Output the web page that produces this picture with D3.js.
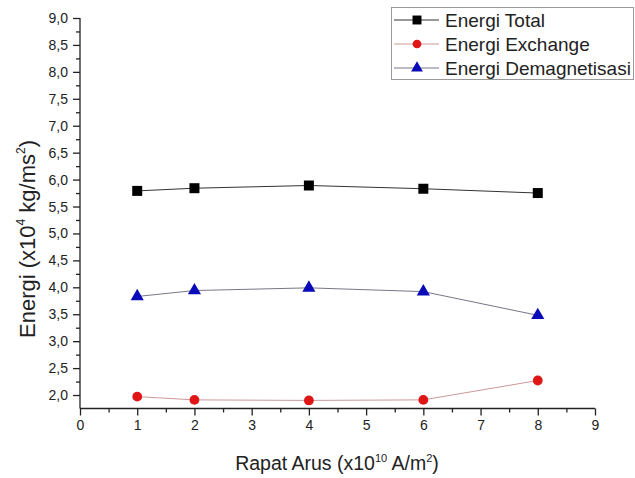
<!DOCTYPE html>
<html>
<head>
<meta charset="utf-8">
<script src="https://cdn.jsdelivr.net/npm/d3@7"></script>
<style>
  body { margin: 0; background: #fff; }
  svg { display: block; font-family: "Liberation Sans", Arial, sans-serif; }
</style>
</head>
<body>
<div id="chart"></div>
<script>
// Data
const rapatArus = [1, 2, 4, 6, 8];
const energiTotal = [5.79, 5.84, 5.89, 5.83, 5.75];
const energiExchange = [1.97, 1.91, 1.90, 1.91, 2.27];
const energiDemag = [3.83, 3.94, 3.99, 3.92, 3.48];

const seriesNames = ["Energi Total", "Energi Exchange", "Energi Demagnetisasi"];
const xTicks = [0, 1, 2, 3, 4, 5, 6, 7, 8, 9];
const yTicks = [2.0, 2.5, 3.0, 3.5, 4.0, 4.5, 5.0, 5.5, 6.0, 6.5, 7.0, 7.5, 8.0, 8.5, 9.0];

const W = 635, H = 478;

const svg = d3.select("#chart").append("svg")
  .attr("width", W)
  .attr("height", H);

const x = d3.scaleLinear().domain([0, 9]).range([80, 595]);
const y = d3.scaleLinear().domain([1.75, 9]).range([408.5, 18]);

// x axis
const xAxis = d3.axisBottom(x).tickValues(xTicks).tickSize(7).tickPadding(5)
  .tickFormat(d3.format("d"));
const xMinor = d3.axisBottom(x).tickValues(d3.range(0.5, 9, 1)).tickSize(4).tickFormat("");

const gx = svg.append("g").attr("transform", `translate(0,${y(1.75)})`);
gx.call(xAxis);
svg.append("g").attr("transform", `translate(0,${y(1.75)})`).call(xMinor)
  .select(".domain").remove();

// y axis
const yAxis = d3.axisLeft(y).tickValues(yTicks).tickSize(7).tickPadding(5)
  .tickFormat(d => d3.format(".1f")(d).replace(".", ","));
const yMinor = d3.axisLeft(y).tickValues(d3.range(2.25, 9, 0.5)).tickSize(4).tickFormat("");

const gy = svg.append("g").attr("transform", `translate(${x(0)},0)`);
gy.call(yAxis);
svg.append("g").attr("transform", `translate(${x(0)},0)`).call(yMinor)
  .select(".domain").remove();

svg.selectAll(".domain").attr("stroke", "#222").attr("stroke-width", 1.3);
svg.selectAll(".tick line").attr("stroke", "#222").attr("stroke-width", 1.3);
svg.selectAll(".tick text").attr("font-size", 14).attr("fill", "#222")
  .attr("font-family", "'Liberation Sans', Arial, sans-serif");

// axis lines without end caps
gx.select(".domain").attr("d", `M${x(0)},0H${x(9)}`);
gy.select(".domain").attr("d", `M0,${y(9)}V${y(1.75)}`);

// axis titles
const xt = svg.append("text")
  .attr("x", 337).attr("y", 470)
  .attr("text-anchor", "middle")
  .attr("font-size", 19.5).attr("fill", "#222");
xt.append("tspan").text("Rapat Arus (x10");
xt.append("tspan").attr("font-size", 11).attr("dy", -8).text("10");
xt.append("tspan").attr("dy", 8).text(" A/m");
xt.append("tspan").attr("font-size", 11).attr("dy", -8).text("2");
xt.append("tspan").attr("dy", 8).text(")");

const yt = svg.append("text")
  .attr("transform", "translate(35,239) rotate(-90)")
  .attr("text-anchor", "middle")
  .attr("font-size", 22).attr("fill", "#222");
yt.append("tspan").text("Energi (x10");
yt.append("tspan").attr("font-size", 12).attr("dy", -10).text("4");
yt.append("tspan").attr("dy", 10).text(" kg/ms");
yt.append("tspan").attr("font-size", 12).attr("dy", -10).text("2");
yt.append("tspan").attr("dy", 10).text(")");

// series
const series = [
  { name: seriesNames[0], values: energiTotal, line: "#333", fill: "#000", shape: d3.symbolSquare, size: 100 },
  { name: seriesNames[1], values: energiExchange, line: "#c99", fill: "#e01515", shape: d3.symbolCircle, size: 75 },
  { name: seriesNames[2], values: energiDemag, line: "#778", fill: "#0a0ab8", shape: d3.symbolTriangle, size: 75 }
];

const line = d3.line()
  .x((d, i) => x(rapatArus[i]))
  .y(d => y(d));

series.forEach(s => {
  svg.append("path")
    .attr("d", line(s.values))
    .attr("fill", "none")
    .attr("stroke", s.line)
    .attr("stroke-width", 1);
  svg.selectAll(null)
    .data(s.values)
    .enter()
    .append("path")
      .attr("d", d3.symbol().type(s.shape).size(s.size))
      .attr("transform", (d, i) => `translate(${x(rapatArus[i])},${y(d)})`)
      .attr("fill", s.fill);
});

// legend
const legend = svg.append("g");
legend.append("rect")
  .attr("x", 391.5).attr("y", 7.5)
  .attr("width", 242).attr("height", 72)
  .attr("fill", "#fff").attr("stroke", "#999").attr("stroke-width", 1);

series.forEach((s, i) => {
  const cy = 20 + i * 24;
  legend.append("line")
    .attr("x1", 394).attr("x2", 439)
    .attr("y1", cy).attr("y2", cy)
    .attr("stroke", s.line).attr("stroke-width", 1);
  legend.append("path")
    .attr("d", d3.symbol().type(s.shape).size(s.size * 0.8))
    .attr("transform", `translate(417,${cy})`)
    .attr("fill", s.fill);
  legend.append("text")
    .attr("x", 445).attr("y", cy + 6.5)
    .attr("font-size", 19).attr("fill", "#222")
    .text(s.name);
});
</script>
</body>
</html>
